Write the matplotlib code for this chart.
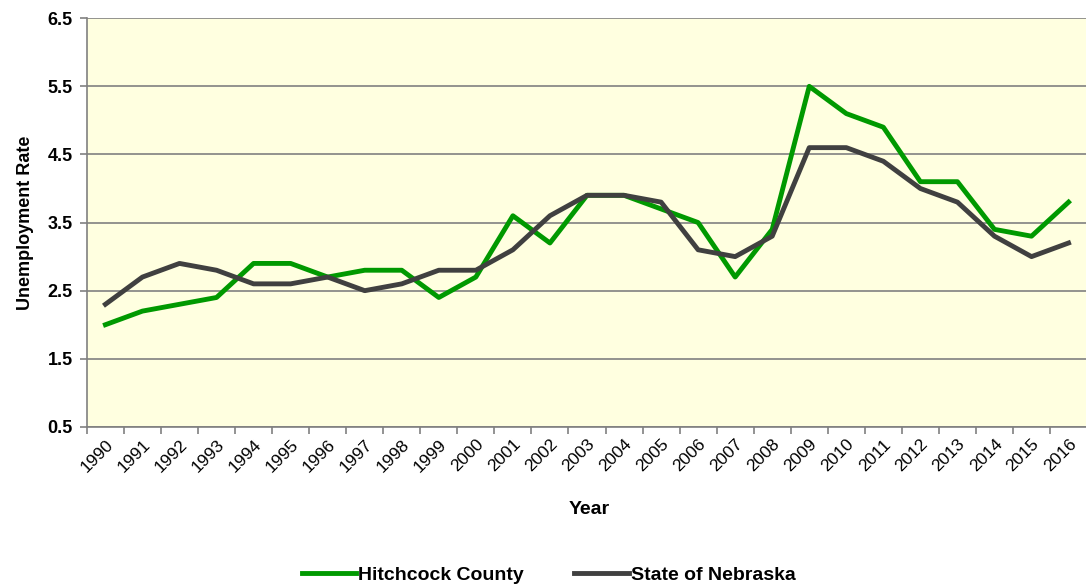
import matplotlib
matplotlib.use("Agg")
import matplotlib.pyplot as plt
from matplotlib import font_manager
import numpy as np

years = [str(y) for y in range(1990, 2017)]
hitchcock = [2.0, 2.2, 2.3, 2.4, 2.9, 2.9, 2.7, 2.8, 2.8, 2.4, 2.7, 3.6, 3.2, 3.9,
             3.9, 3.7, 3.5, 2.7, 3.4, 5.5, 5.1, 4.9, 4.1, 4.1, 3.4, 3.3, 3.8]
nebraska = [2.3, 2.7, 2.9, 2.8, 2.6, 2.6, 2.7, 2.5, 2.6, 2.8, 2.8, 3.1, 3.6, 3.9,
            3.9, 3.8, 3.1, 3.0, 3.3, 4.6, 4.6, 4.4, 4.0, 3.8, 3.3, 3.0, 3.2]
yticks = [0.5, 1.5, 2.5, 3.5, 4.5, 5.5, 6.5]

names = {f.name for f in font_manager.fontManager.ttflist}
fam = ["Liberation Sans Narrow", "Liberation Sans", "DejaVu Sans"]
fam = [f for f in fam if f in names] or ["DejaVu Sans"]
plt.rcParams["font.family"] = fam

fig = plt.figure(figsize=(10.86, 5.88), dpi=100)
ax = fig.add_axes([0.080, 0.274, 0.921, 0.695])
ax.set_facecolor("#FFFFE0")

x = np.arange(len(years))
ax.plot(x, hitchcock, color="#009900", lw=3.5, label="Hitchcock County", zorder=3)
ax.plot(x, nebraska, color="#404040", lw=3.5, label="State of Nebraska", zorder=3)

ax.set_xlim(-0.5, len(years) - 0.5)
ax.set_ylim(0.5, 6.5)
ax.set_yticks(yticks)
ax.set_yticklabels([f"{v:.1f}" for v in yticks], fontsize=13, fontweight="bold")
ax.yaxis.grid(True, color="#808080", lw=1.2, zorder=1)
ax.set_axisbelow(True)

ax.set_xticks(x)
ax.set_xticklabels(years, rotation=45, ha="right", rotation_mode="anchor", fontsize=12.5)
ax.set_xticks(np.arange(-0.5, len(years), 1), minor=True)
ax.tick_params(axis="x", which="major", length=0, pad=7)
ax.tick_params(axis="x", which="minor", length=5, color="#808080", width=1.2)
ax.tick_params(axis="y", length=5, color="#808080", width=1.2, pad=5)

for s in ["top", "right"]:
    ax.spines[s].set_visible(False)
ax.spines["left"].set_color("#808080")
ax.spines["bottom"].set_color("#808080")
ax.spines["left"].set_linewidth(1.2)
ax.spines["bottom"].set_linewidth(1.2)

ax.set_ylabel("Unemployment Rate", fontsize=13, fontweight="bold", labelpad=10)
fig.text(0.543, 0.133, "Year", ha="center", va="center", fontsize=14, fontweight="bold")

leg = fig.legend(loc="center", bbox_to_anchor=(0.505, 0.022), ncol=2, frameon=False,
                 prop={"size": 14, "weight": "bold"}, handlelength=2.8,
                 handletextpad=0.1, columnspacing=2.6)

fig.savefig("out.png", dpi=100)
